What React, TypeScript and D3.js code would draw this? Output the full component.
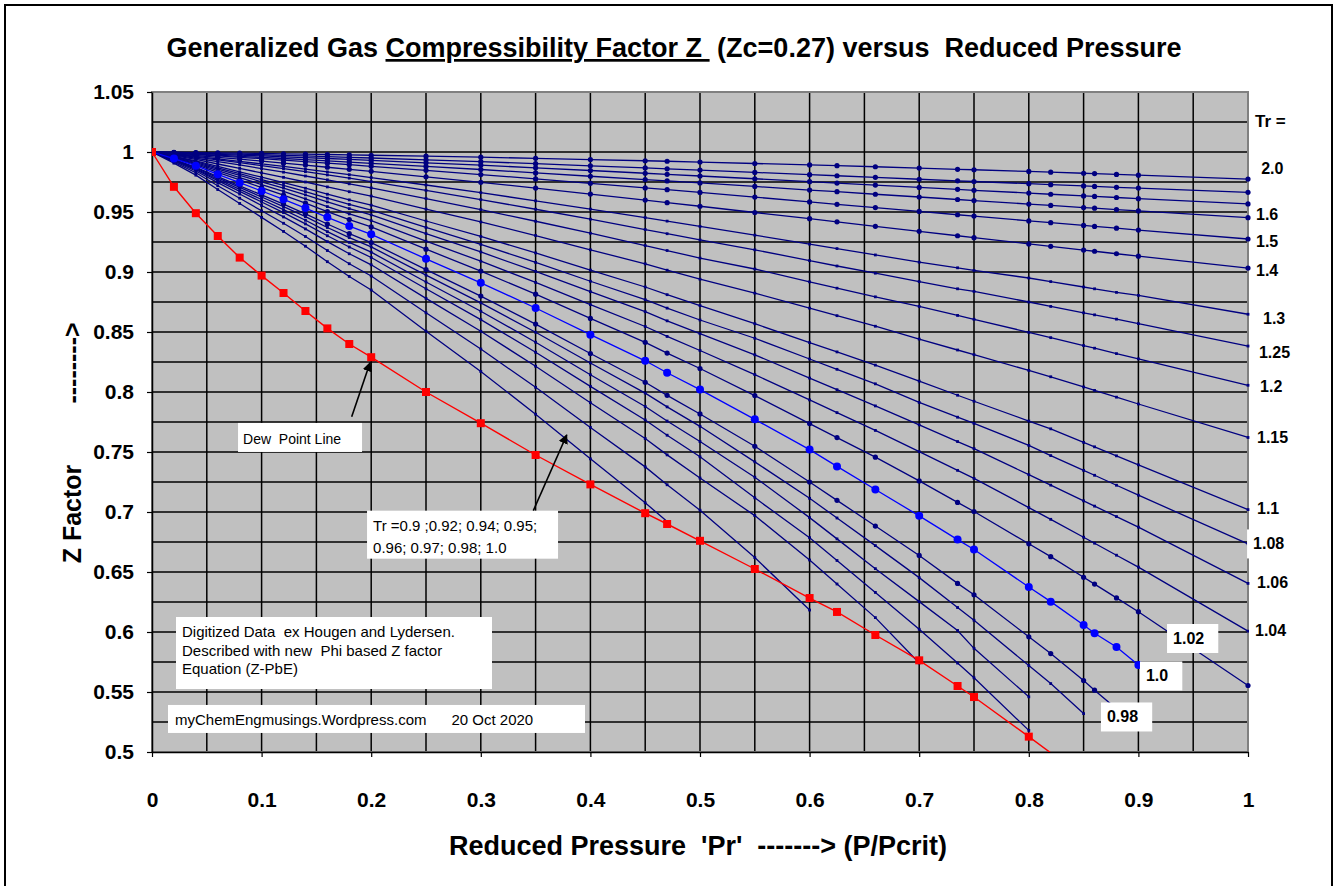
import React, { useRef, useEffect } from "react";
import * as d3 from "d3";

const PR = [0, 0.02, 0.04, 0.06, 0.08, 0.1, 0.12, 0.14, 0.16, 0.18, 0.2, 0.25, 0.3, 0.35, 0.4, 0.45, 0.47, 0.5, 0.55, 0.6, 0.625, 0.66, 0.7, 0.735, 0.75, 0.8, 0.82, 0.85, 0.86, 0.88, 0.9, 1.0];

// Z per reduced temperature, aligned with PR (short arrays stop early)
const Z_TR_200 = [1, 0.9998, 0.9995, 0.9993, 0.999, 0.9988, 0.9985, 0.9982, 0.9979, 0.9976, 0.9973, 0.9965, 0.9957, 0.9947, 0.9937, 0.9927, 0.9923, 0.9916, 0.9904, 0.9892, 0.9886, 0.9877, 0.9866, 0.9856, 0.9852, 0.9838, 0.9832, 0.9823, 0.982, 0.9813, 0.9807, 0.9774];
const Z_TR_180 = [1, 0.9996, 0.9992, 0.9987, 0.9982, 0.9977, 0.9972, 0.9967, 0.9962, 0.9956, 0.995, 0.9935, 0.9919, 0.9903, 0.9885, 0.9867, 0.986, 0.9849, 0.983, 0.9811, 0.9802, 0.9789, 0.9773, 0.976, 0.9754, 0.9736, 0.9728, 0.9717, 0.9713, 0.9706, 0.9699, 0.9664];
const Z_TR_170 = [1, 0.9994, 0.9988, 0.9981, 0.9974, 0.9967, 0.996, 0.9953, 0.9946, 0.9938, 0.993, 0.991, 0.989, 0.9868, 0.9846, 0.9823, 0.9814, 0.98, 0.9777, 0.9753, 0.9741, 0.9724, 0.9705, 0.9689, 0.9681, 0.9658, 0.9648, 0.9634, 0.963, 0.9621, 0.9611, 0.9567];
const Z_TR_160 = [1, 0.9991, 0.9983, 0.9974, 0.9964, 0.9955, 0.9946, 0.9936, 0.9926, 0.9916, 0.9906, 0.988, 0.9854, 0.9826, 0.9798, 0.977, 0.9759, 0.9742, 0.9713, 0.9683, 0.9669, 0.9648, 0.9625, 0.9604, 0.9595, 0.9566, 0.9555, 0.9537, 0.9532, 0.952, 0.9509, 0.9453];
const Z_TR_150 = [1, 0.9989, 0.9978, 0.9967, 0.9956, 0.9944, 0.9932, 0.9919, 0.9907, 0.9894, 0.9881, 0.9847, 0.9812, 0.9776, 0.9739, 0.9701, 0.9686, 0.9663, 0.9624, 0.9584, 0.9564, 0.9537, 0.9505, 0.9477, 0.9466, 0.9426, 0.9411, 0.9388, 0.938, 0.9365, 0.9349, 0.9275];
const Z_TR_140 = [1, 0.9985, 0.9971, 0.9955, 0.994, 0.9924, 0.9907, 0.9891, 0.9873, 0.9856, 0.9839, 0.9793, 0.9747, 0.9699, 0.9649, 0.9599, 0.9578, 0.9548, 0.9496, 0.9444, 0.9418, 0.9381, 0.9339, 0.9302, 0.9286, 0.9234, 0.9214, 0.9183, 0.9173, 0.9152, 0.9132, 0.9033];
const Z_TR_130 = [1, 0.9982, 0.9963, 0.9943, 0.9922, 0.9901, 0.988, 0.9857, 0.9834, 0.9811, 0.9787, 0.9725, 0.9661, 0.9593, 0.9524, 0.9453, 0.9424, 0.938, 0.9307, 0.9232, 0.9195, 0.9142, 0.9082, 0.9035, 0.9013, 0.895, 0.892, 0.8875, 0.886, 0.883, 0.8805, 0.8648];
const Z_TR_125 = [1, 0.9979, 0.9957, 0.9935, 0.9911, 0.9887, 0.9862, 0.9836, 0.9809, 0.9782, 0.9753, 0.968, 0.9603, 0.9523, 0.944, 0.9354, 0.9319, 0.9267, 0.9185, 0.9095, 0.905, 0.899, 0.892, 0.886, 0.8838, 0.875, 0.8713, 0.866, 0.8643, 0.8607, 0.857, 0.8383];
const Z_TR_120 = [1, 0.9975, 0.9948, 0.992, 0.9892, 0.9862, 0.9832, 0.98, 0.9768, 0.9735, 0.9701, 0.9612, 0.952, 0.9423, 0.9323, 0.922, 0.9179, 0.9116, 0.9025, 0.8918, 0.8865, 0.8793, 0.8713, 0.8638, 0.8606, 0.8497, 0.8453, 0.8387, 0.8365, 0.832, 0.8276, 0.8056];
const Z_TR_115 = [1, 0.997, 0.9939, 0.99, 0.9863, 0.9826, 0.9789, 0.975, 0.9709, 0.9669, 0.9633, 0.9524, 0.9417, 0.9304, 0.9185, 0.9068, 0.9015, 0.894, 0.8824, 0.8699, 0.8636, 0.8548, 0.8441, 0.835, 0.8311, 0.818, 0.8127, 0.8042, 0.8013, 0.7957, 0.79, 0.7621];
const Z_TR_110 = [1, 0.9964, 0.9926, 0.988, 0.9835, 0.979, 0.9745, 0.9698, 0.9648, 0.9601, 0.9557, 0.9425, 0.9296, 0.9159, 0.9016, 0.8875, 0.8811, 0.872, 0.8569, 0.8412, 0.8334, 0.8224, 0.8091, 0.7973, 0.7923, 0.7758, 0.7693, 0.758, 0.7543, 0.7468, 0.7393, 0.702];
const Z_TR_108 = [1, 0.9961, 0.9919, 0.9868, 0.9819, 0.977, 0.9721, 0.967, 0.9615, 0.9563, 0.9516, 0.9371, 0.923, 0.908, 0.8923, 0.8769, 0.8699, 0.86, 0.8448, 0.8275, 0.8189, 0.8068, 0.7913, 0.779, 0.7738, 0.7555, 0.747, 0.7347, 0.7306, 0.7223, 0.714, 0.6735];
const Z_TR_106 = [1, 0.9958, 0.9912, 0.9858, 0.9805, 0.9752, 0.9699, 0.9643, 0.9584, 0.9528, 0.9476, 0.932, 0.9167, 0.9005, 0.8836, 0.8669, 0.8593, 0.8486, 0.831, 0.8116, 0.8019, 0.7884, 0.7726, 0.7587, 0.7528, 0.7311, 0.7224, 0.7093, 0.7049, 0.6962, 0.6874, 0.6405];
const Z_TR_104 = [1, 0.9954, 0.9904, 0.9845, 0.9787, 0.9729, 0.9671, 0.961, 0.9545, 0.9484, 0.9428, 0.9257, 0.909, 0.8913, 0.8728, 0.8546, 0.8463, 0.8346, 0.8145, 0.7934, 0.7828, 0.768, 0.7503, 0.7347, 0.728, 0.7037, 0.6939, 0.679, 0.674, 0.664, 0.6541, 0.6007];
const Z_TR_102 = [1, 0.9949, 0.9895, 0.983, 0.9767, 0.9704, 0.9641, 0.9574, 0.9504, 0.9437, 0.9376, 0.919, 0.9008, 0.8815, 0.8613, 0.8414, 0.8324, 0.8196, 0.797, 0.7737, 0.762, 0.7457, 0.7259, 0.708, 0.7004, 0.6735, 0.6628, 0.6456, 0.6399, 0.6284, 0.6169, 0.5554];
const Z_TR_100 = [1, 0.9945, 0.9886, 0.9814, 0.9744, 0.9675, 0.9606, 0.9533, 0.9456, 0.9383, 0.9314, 0.911, 0.891, 0.87, 0.8478, 0.826, 0.816, 0.802, 0.7772, 0.752, 0.738, 0.7188, 0.6968, 0.677, 0.6687, 0.6375, 0.6253, 0.6058, 0.599, 0.5875, 0.5725];
const Z_TR_098 = [1, 0.9939, 0.9873, 0.9795, 0.9718, 0.9642, 0.9566, 0.9485, 0.94, 0.9319, 0.9245, 0.902, 0.8799, 0.8566, 0.8321, 0.8081, 0.7972, 0.7817, 0.7548, 0.725, 0.7097, 0.6883, 0.6638, 0.6405, 0.631, 0.596, 0.582, 0.5596, 0.5515, 0.536];
const Z_TR_097 = [1, 0.9936, 0.9867, 0.9785, 0.9705, 0.9625, 0.9545, 0.9461, 0.9371, 0.9287, 0.9209, 0.8974, 0.8743, 0.8498, 0.8242, 0.7991, 0.7876, 0.7714, 0.7418, 0.7114, 0.695, 0.672, 0.6453, 0.6204, 0.6098, 0.572, 0.557, 0.532];
const Z_TR_096 = [1, 0.9932, 0.986, 0.9773, 0.9689, 0.9604, 0.952, 0.9431, 0.9336, 0.9247, 0.9165, 0.8917, 0.8673, 0.8415, 0.8144, 0.7879, 0.7758, 0.7587, 0.729, 0.6953, 0.6776, 0.6528, 0.6253, 0.6013, 0.5864, 0.546];
const Z_TR_095 = [1, 0.9929, 0.9853, 0.9761, 0.9672, 0.9583, 0.9495, 0.9401, 0.9302, 0.9208, 0.9121, 0.886, 0.8603, 0.8331, 0.8047, 0.7767, 0.764, 0.746, 0.7118, 0.6786, 0.6596, 0.633, 0.6023, 0.5741, 0.5618, 0.518];
const Z_TR_094 = [1, 0.9924, 0.9842, 0.9745, 0.965, 0.9554, 0.9459, 0.9359, 0.9253, 0.9152, 0.906, 0.878, 0.8506, 0.8215, 0.7911, 0.7612, 0.7476, 0.7283, 0.697, 0.66, 0.64, 0.612, 0.5742];
const Z_TR_092 = [1, 0.9916, 0.9827, 0.9719, 0.9615, 0.951, 0.9406, 0.9296, 0.9179, 0.9069, 0.8967, 0.866, 0.8358, 0.8039, 0.7705, 0.7376, 0.7227, 0.7015, 0.662, 0.6183];
const Z_TR_090 = [1, 0.9907, 0.9807, 0.9687, 0.9571, 0.9455, 0.9338, 0.9215, 0.9086, 0.8963, 0.885, 0.8507, 0.8171, 0.7815, 0.7443, 0.7077, 0.692];

// dew point line
const DEW_PR = [0, 0.02, 0.04, 0.06, 0.08, 0.1, 0.12, 0.14, 0.16, 0.18, 0.2, 0.25, 0.3, 0.35, 0.4, 0.45, 0.47, 0.5, 0.55, 0.6, 0.625, 0.66, 0.7, 0.735, 0.75, 0.8, 0.85];
const DEW_Z = [1, 0.971, 0.949, 0.93, 0.912, 0.897, 0.8825, 0.8675, 0.853, 0.84, 0.829, 0.8, 0.774, 0.7475, 0.723, 0.699, 0.69, 0.676, 0.6525, 0.6283, 0.6167, 0.5975, 0.5764, 0.555, 0.5458, 0.5128, 0.479];

const Y_TICKS = [0.5, 0.55, 0.6, 0.65, 0.7, 0.75, 0.8, 0.85, 0.9, 0.95, 1, 1.05];
const X_TICKS = [0, 0.1, 0.2, 0.3, 0.4, 0.5, 0.6, 0.7, 0.8, 0.9, 1];

const SERIES = [
  { tr: "2.0", z: Z_TR_200, mark: "dot" },
  { tr: "1.8", z: Z_TR_180, mark: "dot" },
  { tr: "1.7", z: Z_TR_170, mark: "dot" },
  { tr: "1.6", z: Z_TR_160, mark: "dot" },
  { tr: "1.5", z: Z_TR_150, mark: "dot" },
  { tr: "1.4", z: Z_TR_140, mark: "dot" },
  { tr: "1.3", z: Z_TR_130, mark: "small" },
  { tr: "1.25", z: Z_TR_125, mark: "small" },
  { tr: "1.2", z: Z_TR_120, mark: "small" },
  { tr: "1.15", z: Z_TR_115, mark: "small" },
  { tr: "1.1", z: Z_TR_110, mark: "small" },
  { tr: "1.08", z: Z_TR_108, mark: "small" },
  { tr: "1.06", z: Z_TR_106, mark: "small" },
  { tr: "1.04", z: Z_TR_104, mark: "small" },
  { tr: "1.02", z: Z_TR_102, mark: "dot" },
  { tr: "0.98", z: Z_TR_098, mark: "dot" },
  { tr: "0.97", z: Z_TR_097, mark: "small" },
  { tr: "0.96", z: Z_TR_096, mark: "small" },
  { tr: "0.95", z: Z_TR_095, mark: "small" },
  { tr: "0.94", z: Z_TR_094, mark: "small" },
  { tr: "0.92", z: Z_TR_092, mark: "small" },
  { tr: "0.9", z: Z_TR_090, mark: "small" },
  { tr: "1.0", z: Z_TR_100, mark: "blue" },
];

// Tr labels at the right: text, pr, z, white box behind
const TR_LABELS: [string, number, number, boolean][] = [
  ["2.0", 1.012, 0.9867, false],
  ["1.6", 1.0073, 0.9483, false],
  ["1.5", 1.0073, 0.9258, false],
  ["1.4", 1.0073, 0.9017, false],
  ["1.3", 1.0137, 0.8617, false],
  ["1.25", 1.01, 0.8333, false],
  ["1.2", 1.011, 0.805, false],
  ["1.15", 1.0082, 0.7625, false],
  ["1.1", 1.0082, 0.7033, false],
  ["1.08", 1.0046, 0.6738, true],
  ["1.06", 1.0082, 0.6413, false],
  ["1.04", 1.0064, 0.6017, true],
  ["1.02", 0.9316, 0.595, true],
  ["1.0", 0.9069, 0.5638, true],
  ["0.98", 0.8713, 0.5296, true],
];

const FONT = "'Liberation Sans', Arial, Helvetica, sans-serif";

const App = () => {
  const ref = useRef<SVGSVGElement | null>(null);

  useEffect(() => {
    const W = 1338;
    const H = 886;
    const svg = d3.select(ref.current);
    svg.selectAll("*").remove();

    const x = d3.scaleLinear().domain([0, 1]).range([152, 1248]);
    const y = d3.scaleLinear().domain([0.5, 1.05]).range([752, 92]);

    const defs = svg.append("defs");
    defs
      .append("clipPath")
      .attr("id", "plotClip")
      .append("rect")
      .attr("x", x(0))
      .attr("y", y(1.05))
      .attr("width", x(1) - x(0))
      .attr("height", y(0.5) - y(1.05));
    defs
      .append("marker")
      .attr("id", "arrowHead")
      .attr("viewBox", "0 0 10 10")
      .attr("refX", 9)
      .attr("refY", 5)
      .attr("markerWidth", 6)
      .attr("markerHeight", 6)
      .attr("orient", "auto")
      .append("path")
      .attr("d", "M0,0 L10,5 L0,10 z")
      .attr("fill", "#000");

    // outer frame
    svg
      .append("rect")
      .attr("x", 5)
      .attr("y", 5)
      .attr("width", W - 11)
      .attr("height", H)
      .attr("fill", "#fff")
      .attr("stroke", "#000")
      .attr("stroke-width", 2);

    // plot area
    svg
      .append("rect")
      .attr("x", x(0))
      .attr("y", y(1.05))
      .attr("width", x(1) - x(0))
      .attr("height", y(0.5) - y(1.05))
      .attr("fill", "#c0c0c0");

    const grid = svg.append("g").attr("stroke", "#000").attr("stroke-width", 1.5);
    d3.range(1, 20).forEach((i) => {
      const v = i * 0.05;
      grid.append("line").attr("x1", x(v)).attr("x2", x(v)).attr("y1", y(0.5)).attr("y2", y(1.05));
    });
    d3.range(1, 22).forEach((i) => {
      const v = 0.5 + i * 0.025;
      grid.append("line").attr("x1", x(0)).attr("x2", x(1)).attr("y1", y(v)).attr("y2", y(v));
    });

    svg
      .append("rect")
      .attr("x", x(0))
      .attr("y", y(1.05))
      .attr("width", x(1) - x(0))
      .attr("height", y(0.5) - y(1.05))
      .attr("fill", "none")
      .attr("stroke", "#808080")
      .attr("stroke-width", 2);

    // axes
    const yAxis = svg
      .append("g")
      .attr("transform", `translate(${x(0)},0)`)
      .call(
        d3
          .axisLeft(y)
          .tickValues(Y_TICKS)
          .tickSize(5)
          .tickSizeOuter(0)
          .tickPadding(13)
          .tickFormat((d) => String(d))
      );
    const xAxis = svg
      .append("g")
      .attr("transform", `translate(0,${y(0.5)})`)
      .call(
        d3
          .axisBottom(x)
          .tickValues(X_TICKS)
          .tickSize(5)
          .tickSizeOuter(0)
          .tickPadding(35)
          .tickFormat((d) => String(d))
      );
    [yAxis, xAxis].forEach((a) => {
      a.select(".domain").attr("stroke", "#000").attr("stroke-width", 1.5);
      a.selectAll(".tick line").attr("stroke", "#000").attr("stroke-width", 1.2);
      a.selectAll("text")
        .attr("fill", "#000")
        .style("font-family", FONT)
        .style("font-size", "21px")
        .style("font-weight", "bold");
    });

    // curves
    const line = d3
      .line<[number, number]>()
      .x((d) => x(d[0]))
      .y((d) => y(d[1]));

    const drawSeries = (s: { z: number[]; mark: string }) => {
      const pts = s.z.map((v, i) => [PR[i], v] as [number, number]);
      const color = s.mark === "blue" ? "#0000ff" : "#000080";
      svg
        .append("path")
        .attr("d", line(pts))
        .attr("fill", "none")
        .attr("stroke", color)
        .attr("stroke-width", 1.3);
      const mk = pts.slice(1);
      if (s.mark === "small") {
        svg
          .append("g")
          .selectAll("rect")
          .data(mk)
          .enter()
          .append("rect")
          .attr("x", (d) => x(d[0]) - 1.4)
          .attr("y", (d) => y(d[1]) - 1.4)
          .attr("width", 2.8)
          .attr("height", 2.8)
          .attr("fill", color);
      } else {
        svg
          .append("g")
          .selectAll("circle")
          .data(mk)
          .enter()
          .append("circle")
          .attr("cx", (d) => x(d[0]))
          .attr("cy", (d) => y(d[1]))
          .attr("r", s.mark === "blue" ? 4 : 2.6)
          .attr("fill", color);
      }
    };
    SERIES.forEach(drawSeries);

    // dew point line
    const dew = DEW_PR.map((p, i) => [p, DEW_Z[i]] as [number, number]);
    const dewG = svg.append("g").attr("clip-path", "url(#plotClip)");
    dewG
      .append("path")
      .attr("d", line(dew))
      .attr("fill", "none")
      .attr("stroke", "#ff0000")
      .attr("stroke-width", 1.4);
    dewG
      .selectAll("rect")
      .data(dew)
      .enter()
      .append("rect")
      .attr("x", (d) => x(d[0]) - 4)
      .attr("y", (d) => y(d[1]) - 4)
      .attr("width", 8)
      .attr("height", 8)
      .attr("fill", "#ff0000");

    // text boxes
    const note = (lines: string[], pr: number, z: number, w: number, h: number, size: number, lh: number, base: number, pad: number) => {
      const g = svg.append("g").attr("transform", `translate(${x(pr)},${y(z)})`);
      g.append("rect").attr("width", w).attr("height", h).attr("fill", "#fff");
      lines.forEach((t, i) => {
        g.append("text")
          .attr("x", pad)
          .attr("y", base + i * lh)
          .attr("xml:space", "preserve")
          .style("white-space", "pre")
          .style("font-family", FONT)
          .style("font-size", `${size}px`)
          .attr("fill", "#000")
          .text(t);
      });
    };
    note(["Dew  Point Line"], 0.0785, 0.7742, 124, 29, 14, 0, 21, 5);
    note(["Tr =0.9 ;0.92; 0.94; 0.95;", "0.96; 0.97; 0.98; 1.0"], 0.1962, 0.7011, 191, 48, 15, 22, 20, 6);
    note(
      ["Digitized Data  ex Hougen and Lydersen.", "Described with new  Phi based Z factor", "Equation (Z-PbE)"],
      0.0219, 0.6125, 316, 72, 15, 18.5, 20, 6
    );
    note(["myChemEngmusings.Wordpress.com      20 Oct 2020"], 0.0146, 0.5392, 417, 28, 15, 0, 20, 7);

    // arrows
    const arrow = (p1: number, z1: number, p2: number, z2: number) => {
      svg
        .append("line")
        .attr("x1", x(p1))
        .attr("y1", y(z1))
        .attr("x2", x(p2))
        .attr("y2", y(z2))
        .attr("stroke", "#000")
        .attr("stroke-width", 1.6)
        .attr("marker-end", "url(#arrowHead)");
    };
    arrow(0.1822, 0.7794, 0.199, 0.8245);
    arrow(0.3479, 0.7011, 0.3784, 0.7642);

    // Tr labels
    svg
      .append("text")
      .attr("x", x(1.0064))
      .attr("y", y(1.0258))
      .attr("dy", "0.35em")
      .style("font-family", FONT)
      .style("font-size", "17px")
      .style("font-weight", "bold")
      .text("Tr =");

    TR_LABELS.forEach(([t, pr, z, box]) => {
      const g = svg.append("g");
      const r = g.append("rect").attr("fill", "#fff");
      const tx = g
        .append("text")
        .attr("x", x(pr))
        .attr("y", y(z))
        .attr("dy", "0.35em")
        .style("font-family", FONT)
        .style("font-size", "16px")
        .style("font-weight", "bold")
        .text(t);
      if (box) {
        const bb = (tx.node() as SVGTextElement).getBBox();
        r.attr("x", bb.x - 6)
          .attr("y", y(z) - 14)
          .attr("width", bb.width + 20)
          .attr("height", 29);
      } else {
        r.remove();
      }
    });

    // titles
    const title = svg
      .append("text")
      .attr("x", 674)
      .attr("y", 57)
      .attr("text-anchor", "middle")
      .attr("xml:space", "preserve")
      .style("white-space", "pre")
      .style("font-family", FONT)
      .style("font-size", "27px")
      .style("font-weight", "bold");
    title.append("tspan").text("Generalized Gas ");
    title.append("tspan").attr("text-decoration", "underline").text("Compressibility Factor Z ");
    title.append("tspan").text(" (Zc=0.27) versus  Reduced Pressure");

    svg
      .append("text")
      .attr("x", 698)
      .attr("y", 855)
      .attr("text-anchor", "middle")
      .attr("xml:space", "preserve")
      .style("white-space", "pre")
      .style("font-family", FONT)
      .style("font-size", "27px")
      .style("font-weight", "bold")
      .text("Reduced Pressure  'Pr'  -------> (P/Pcrit)");

    svg
      .append("text")
      .attr("transform", "translate(81,514) rotate(-90)")
      .attr("text-anchor", "middle")
      .style("font-family", FONT)
      .style("font-size", "25px")
      .style("font-weight", "bold")
      .text("Z Factor");
    svg
      .append("text")
      .attr("transform", "translate(81,363) rotate(-90)")
      .attr("text-anchor", "middle")
      .style("font-family", FONT)
      .style("font-size", "25px")
      .style("font-weight", "bold")
      .text("-------->");
  }, []);

  return (
    <svg
      ref={ref}
      width={1338}
      height={886}
      style={{ position: "absolute", left: 0, top: 0, background: "#fff" }}
    />
  );
};

export default App;
